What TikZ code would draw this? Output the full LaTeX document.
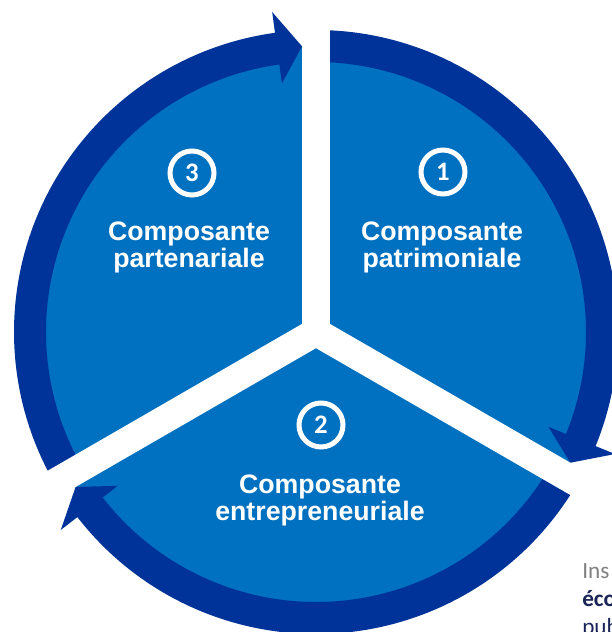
\documentclass[tikz,border=0pt]{standalone}
\usepackage{fontspec}
\setmainfont{Liberation Sans}
\newfontfamily\numfont{Carlito}
\definecolor{ringblue}{HTML}{003399}
\definecolor{fillblue}{HTML}{0070C0}
\definecolor{notegray}{HTML}{808080}
\definecolor{notenavy}{HTML}{1A2456}
\tikzset{
  ringarrow/.style={fill=ringblue},
  gapband/.style={draw=white, line width=0.7cm, line cap=butt},
  numcircle/.style={circle, draw=white, line width=0.125cm, minimum size=1.1cm, inner sep=0pt,
    text=white, font=\numfont\bfseries\fontsize{19}{19}\selectfont},
  parttext/.style={text=white, align=center, inner sep=0pt,
    font=\bfseries\fontsize{19}{19.2}\selectfont},
  notetext/.style={align=left, inner sep=0pt, anchor=north west,
    font=\numfont\fontsize{16.5}{20}\selectfont}
}
\begin{document}
\begin{tikzpicture}[x=0.025cm, y=0.025cm]
  \useasboundingbox (-316,-300) rectangle (296,332);
  \clip (-316,-300) rectangle (296,332);

  % Drawing the disk
  \coordinate (S) at (0,0);
  \fill [fillblue] (S) circle (286);

  % Drawing arrow 1 (patrimoniale -> entrepreneuriale)
  \fill [ringarrow] (90:302) arc[start angle=90, end angle=-22.2, radius=302] -- (-22.2:323)
    -- (-27.2:286) -- (-22.2:251) -- (-22.2:270) arc[start angle=-22.2, end angle=90, radius=270] -- cycle;

  % Drawing arrow 2 (entrepreneuriale -> partenariale)
  \fill [ringarrow] (-30:302) arc[start angle=-30, end angle=-142.2, radius=302] -- (-142.2:323)
    -- (-147.2:286) -- (-142.2:251) -- (-142.2:270) arc[start angle=-142.2, end angle=-30, radius=270] -- cycle;

  % Drawing arrow 3 (partenariale -> patrimoniale)
  \fill [ringarrow] (210:302) arc[start angle=210, end angle=97.8, radius=302] -- (97.8:323)
    -- (92.8:286) -- (97.8:251) -- (97.8:270) arc[start angle=97.8, end angle=210, radius=270] -- cycle;

  % Drawing the white gaps
  \coordinate (G1) at (90:345);
  \coordinate (G2) at (330:345);
  \coordinate (G3) at (210:345);
  \draw [gapband] (S) -- (G1);
  \draw [gapband] (S) -- (G2);
  \draw [gapband] (S) -- (G3);

  % Marking the parts
  \node [numcircle] (n1) at (127,160) {1};
  \node [parttext] (p1) at (126,85) {Composante\\patrimoniale};

  \node [numcircle] (n2) at (5,-93) {2};
  \node [parttext] (p2) at (4,-168) {Composante\\entrepreneuriale};

  \node [numcircle] (n3) at (-124,159) {3};
  \node [parttext] (p3) at (-127,85) {Composante\\partenariale};

  % Text from the next box
  \node [notetext] (note) at (266,-231) {{\color{notegray}Ins}\\{\bfseries\color{notenavy}éco}\\{\color{notenavy}pub}};
\end{tikzpicture}
\end{document}
